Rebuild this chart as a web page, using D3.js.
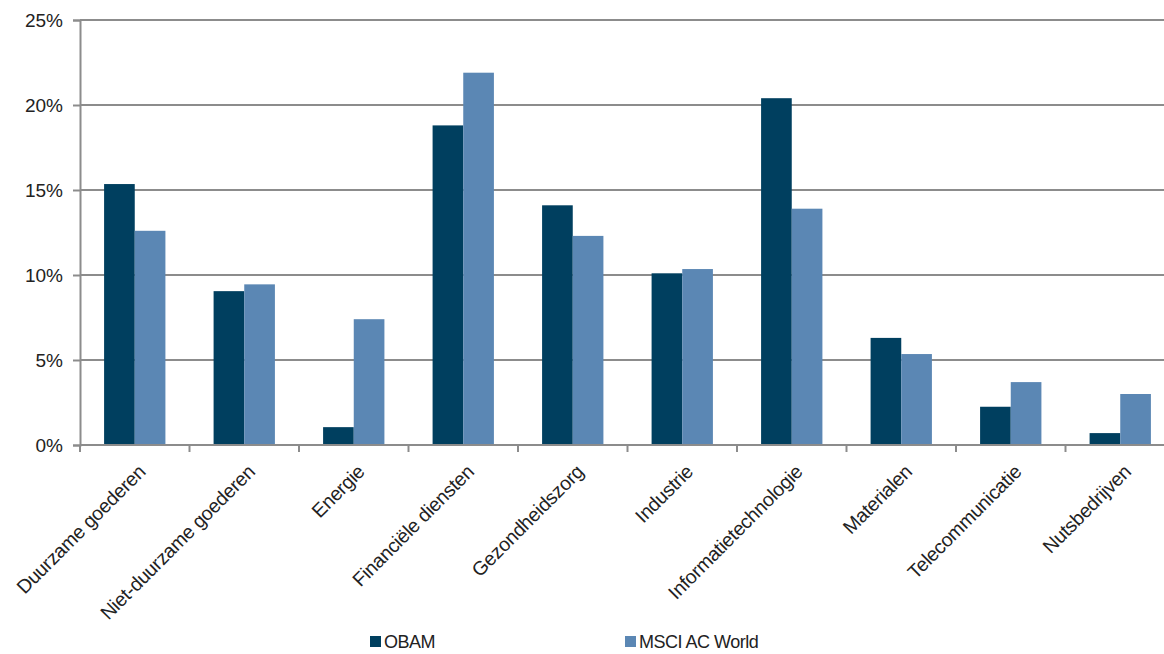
<!DOCTYPE html>
<html>
<head>
<meta charset="utf-8">
<script src="https://cdn.jsdelivr.net/npm/d3@7"></script>
<style>
  body { margin: 0; background: #fff; }
  svg text { font-family: "Liberation Sans", Arial, sans-serif; fill: #222; }
</style>
</head>
<body>
<svg width="1164" height="654"></svg>
<script>
// sectors and weights (%)
var categories = ["Duurzame goederen", "Niet-duurzame goederen", "Energie", "Financiële diensten",
  "Gezondheidszorg", "Industrie", "Informatietechnologie", "Materialen", "Telecommunicatie", "Nutsbedrijven"];
var obam = [15.35, 9.05, 1.05, 18.8, 14.1, 10.1, 20.4, 6.3, 2.25, 0.7];
var msci = [12.6, 9.45, 7.4, 21.9, 12.3, 10.35, 13.9, 5.35, 3.7, 3.0];
var seriesNames = ["OBAM", "MSCI AC World"];
var seriesColors = ["#003f5f", "#5b87b4"];
var yTicks = [0, 5, 10, 15, 20, 25];

var svg = d3.select("svg");
var plotLeft = 80, plotTop = 20, plotBottom = 445, plotRight = 1175;

var x = d3.scaleBand().domain(categories).range([plotLeft, plotRight]).paddingInner(0.44).paddingOuter(0.22);
var y = d3.scaleLinear().domain([0, 25]).range([plotBottom, plotTop]);

// gridlines
svg.selectAll("line.grid").data(yTicks.slice(1)).enter().append("line")
  .attr("x1", plotLeft).attr("x2", 1164)
  .attr("y1", function(d){ return y(d); }).attr("y2", function(d){ return y(d); })
  .attr("stroke", "#8c8c8c").attr("stroke-width", 2);

// y axis
var yAxis = svg.append("g").attr("transform", "translate(" + plotLeft + ",0)")
  .call(d3.axisLeft(y).tickValues(yTicks).tickSize(7).tickPadding(10).tickFormat(function(d){ return d + "%"; }));
yAxis.select(".domain").attr("stroke", "#8c8c8c").attr("stroke-width", 2);
yAxis.selectAll(".tick line").attr("stroke", "#8c8c8c").attr("stroke-width", 2);
yAxis.selectAll("text").attr("font-size", 19).attr("fill", "#222").attr("font-family", "Liberation Sans, Arial, sans-serif");

// bars
var sub = d3.scaleBand().domain([0, 1]).range([0, x.bandwidth()]);
var groups = svg.selectAll("g.cat").data(categories).enter().append("g")
  .attr("transform", function(d){ return "translate(" + x(d) + ",0)"; });
[obam, msci].forEach(function(vals, s){
  groups.append("rect")
    .attr("x", sub(s))
    .attr("width", sub.bandwidth())
    .attr("y", function(d, i){ return y(vals[i]); })
    .attr("height", function(d, i){ return plotBottom - y(vals[i]); })
    .attr("fill", seriesColors[s]);
});

// x axis with ticks between categories
var step = x.step();
var boundaries = d3.range(categories.length).map(function(i){ return plotLeft + i * step; });
svg.append("line").attr("x1", plotLeft).attr("x2", 1164).attr("y1", plotBottom).attr("y2", plotBottom)
  .attr("stroke", "#8c8c8c").attr("stroke-width", 2);
svg.selectAll("line.xt").data(boundaries).enter().append("line")
  .attr("x1", function(d){ return d; }).attr("x2", function(d){ return d; })
  .attr("y1", plotBottom).attr("y2", plotBottom + 7)
  .attr("stroke", "#8c8c8c").attr("stroke-width", 2);

svg.selectAll("text.xl").data(categories).enter().append("text")
  .attr("text-anchor", "end")
  .attr("font-size", 19.5)
  .attr("letter-spacing", -0.3)
  .attr("transform", function(d){ return "translate(" + (x(d) + x.bandwidth() / 2 + 12) + "," + (plotBottom + 28) + ") rotate(-45)"; })
  .text(function(d){ return d; });

// legend
var legendX = [370, 625];
seriesNames.forEach(function(n, i){
  svg.append("rect").attr("x", legendX[i]).attr("y", 636).attr("width", 11).attr("height", 11).attr("fill", seriesColors[i]);
  svg.append("text").attr("x", legendX[i] + 14).attr("y", 648).attr("font-size", 18)
    .attr("letter-spacing", -0.5).text(n);
});
</script>
</body>
</html>
